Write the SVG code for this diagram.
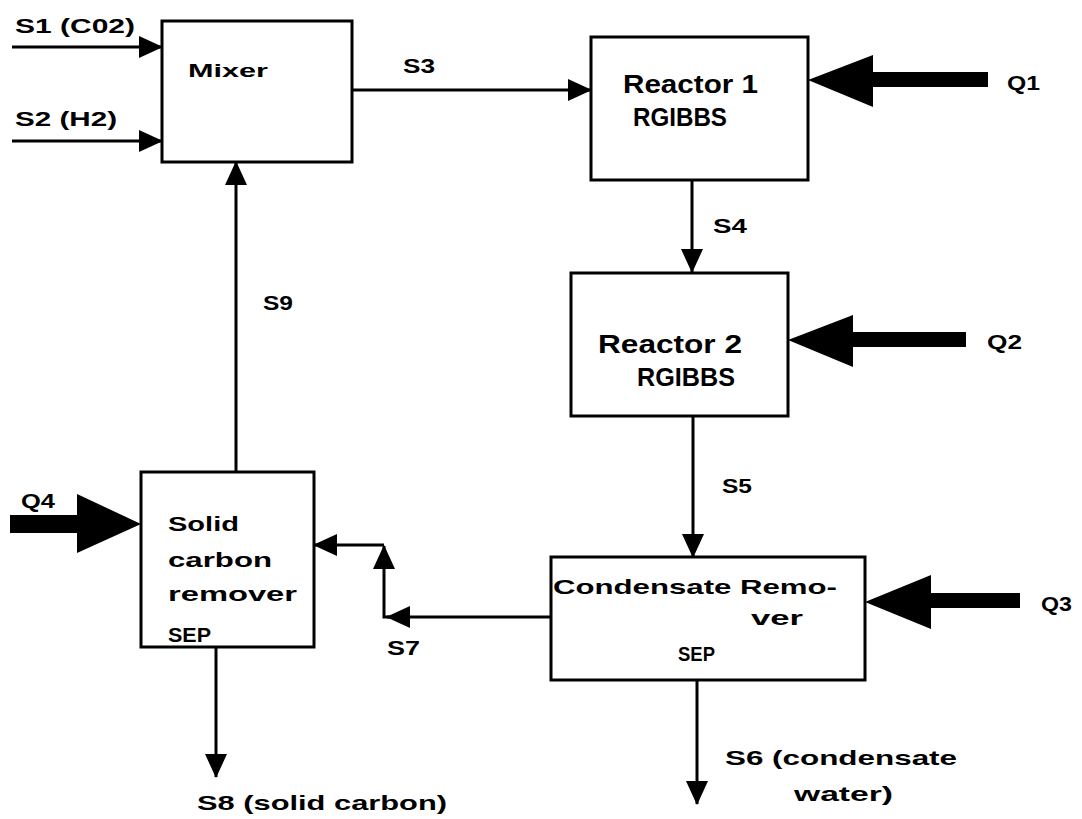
<svg xmlns="http://www.w3.org/2000/svg" width="1082" height="819" viewBox="0 0 1082 819">
<defs>
<style>
.box{fill:#fff;stroke:#000;stroke-width:3}
.ln{fill:none;stroke:#000;stroke-width:3}
.big{fill:#000;stroke:none}
text{font-family:"Liberation Sans",Arial,sans-serif;font-weight:bold;fill:#000;font-size:21px}
.nm{font-size:25px}
</style>
<marker id="ah" markerUnits="userSpaceOnUse" markerWidth="24" markerHeight="22" refX="23" refY="11" orient="auto" viewBox="0 0 24 22">
<path d="M0,0 L24,11 L0,22 z" fill="#000"/>
</marker>
</defs>
<rect width="1082" height="819" fill="#fff"/>
<g id="connectors">
<line class="ln" x1="12" y1="47" x2="162" y2="47" marker-end="url(#ah)"/>
<line class="ln" x1="12" y1="141" x2="162" y2="141" marker-end="url(#ah)"/>
<line class="ln" x1="352" y1="90" x2="591" y2="90" marker-end="url(#ah)"/>
<line class="ln" x1="692" y1="180" x2="692" y2="272" marker-end="url(#ah)"/>
<line class="ln" x1="693" y1="416" x2="693" y2="557" marker-end="url(#ah)"/>
<line class="ln" x1="697" y1="680" x2="697" y2="804" marker-end="url(#ah)"/>
<line class="ln" x1="551" y1="617" x2="387" y2="617" marker-end="url(#ah)"/>
<polyline class="ln" points="389,617 384,617 384,546" marker-end="url(#ah)"/>
<line class="ln" x1="384" y1="545" x2="314" y2="545" marker-end="url(#ah)"/>
<line class="ln" x1="216" y1="647" x2="216" y2="777" marker-end="url(#ah)"/>
<line class="ln" x1="236" y1="472" x2="236" y2="162" marker-end="url(#ah)"/>
<polygon class="big" points="808,80 873,55 873,72 988,72 988,87 873,87 873,107"/>
<polygon class="big" points="788,340 853,315 853,332 966,332 966,347 853,347 853,367"/>
<polygon class="big" points="865,602 931,575 931,593 1020,593 1020,608 931,608 931,629"/>
<polygon class="big" points="141,524 77,494 77,515 10,515 10,533 77,533 77,553"/>
<text x="15" y="33" textLength="120" lengthAdjust="spacingAndGlyphs">S1 (C02)</text>
<text x="15" y="126" textLength="102" lengthAdjust="spacingAndGlyphs">S2 (H2)</text>
<text x="403" y="73" textLength="32" lengthAdjust="spacingAndGlyphs">S3</text>
<text x="713" y="233" textLength="34" lengthAdjust="spacingAndGlyphs">S4</text>
<text x="722" y="493" textLength="30" lengthAdjust="spacingAndGlyphs">S5</text>
<text x="725" y="765" textLength="232" lengthAdjust="spacingAndGlyphs">S6 (condensate</text>
<text x="794" y="801" textLength="99" lengthAdjust="spacingAndGlyphs">water)</text>
<text x="387" y="655" textLength="33" lengthAdjust="spacingAndGlyphs">S7</text>
<text x="197" y="810" textLength="250" lengthAdjust="spacingAndGlyphs">S8 (solid carbon)</text>
<text x="263" y="310" textLength="30" lengthAdjust="spacingAndGlyphs">S9</text>
<text x="1007" y="90" textLength="33" lengthAdjust="spacingAndGlyphs">Q1</text>
<text x="987" y="349" textLength="35" lengthAdjust="spacingAndGlyphs">Q2</text>
<text x="1041" y="611" textLength="31" lengthAdjust="spacingAndGlyphs">Q3</text>
<text x="21" y="508" textLength="34" lengthAdjust="spacingAndGlyphs">Q4</text>
</g>
<g id="mixer">
<rect class="box" x="162" y="21" width="190" height="141"/>
<text x="188" y="77" textLength="80" lengthAdjust="spacingAndGlyphs" style="font-size:19px">Mixer</text>
</g>
<g id="reactor1">
<rect class="box" x="591" y="37" width="217" height="143"/>
<text class="nm" x="623" y="93" textLength="135" lengthAdjust="spacingAndGlyphs">Reactor 1</text>
<text class="nm" x="633" y="126" textLength="94" lengthAdjust="spacingAndGlyphs">RGIBBS</text>
</g>
<g id="reactor2">
<rect class="box" x="571" y="273" width="217" height="143"/>
<text class="nm" x="598" y="353" textLength="144" lengthAdjust="spacingAndGlyphs">Reactor 2</text>
<text class="nm" x="637" y="386" textLength="98" lengthAdjust="spacingAndGlyphs">RGIBBS</text>
</g>
<g id="condensate-remover">
<rect class="box" x="551" y="557" width="314" height="123"/>
<text x="553" y="594" textLength="284" lengthAdjust="spacingAndGlyphs">Condensate Remo-</text>
<text x="751" y="625" textLength="52" lengthAdjust="spacingAndGlyphs">ver</text>
<text x="678" y="661" textLength="37" lengthAdjust="spacingAndGlyphs">SEP</text>
</g>
<g id="solid-carbon-remover">
<rect class="box" x="141" y="472" width="173" height="175"/>
<text x="168" y="531" textLength="71" lengthAdjust="spacingAndGlyphs">Solid</text>
<text x="168" y="567" textLength="104" lengthAdjust="spacingAndGlyphs">carbon</text>
<text x="168" y="601" textLength="129" lengthAdjust="spacingAndGlyphs">remover</text>
<text x="168" y="642" textLength="43" lengthAdjust="spacingAndGlyphs">SEP</text>
</g>
</svg>
